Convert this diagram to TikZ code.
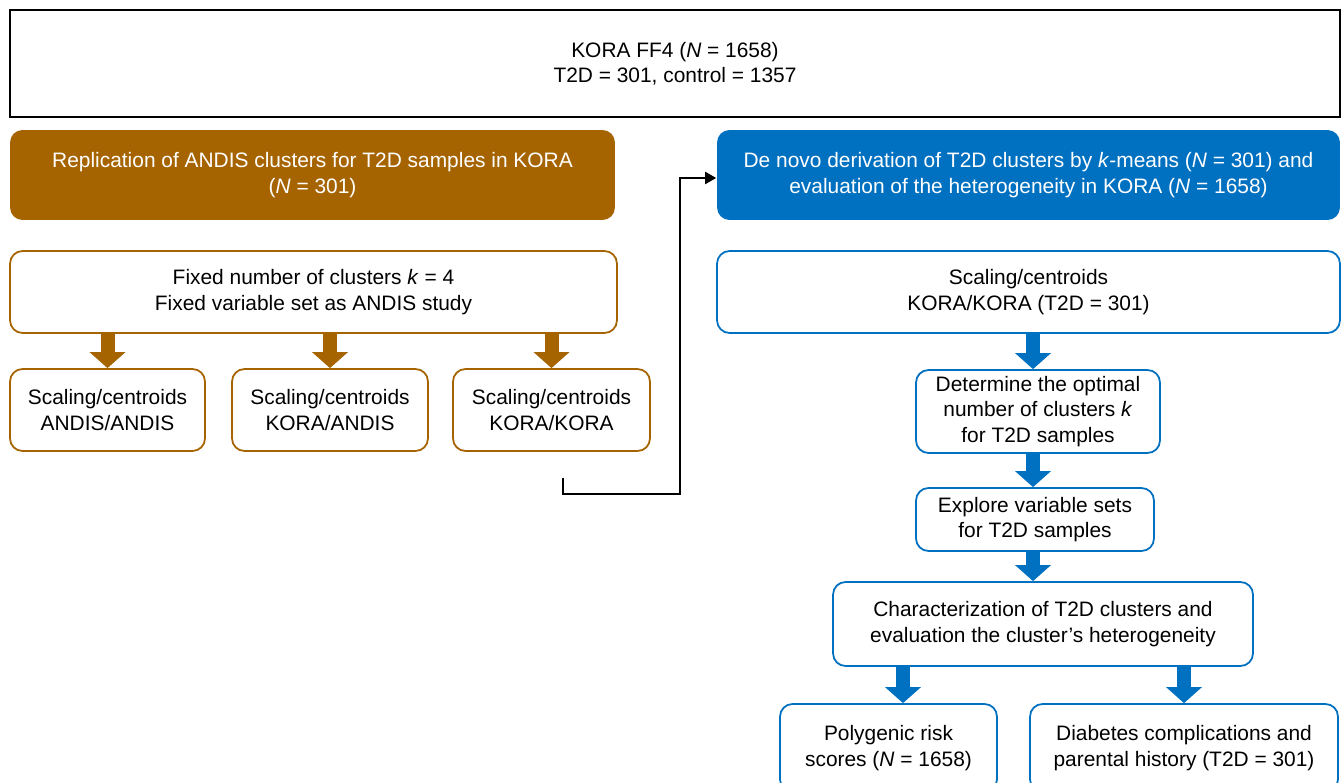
\documentclass[tikz,border=0pt]{standalone}
\usepackage{fontspec}
\setmainfont{Liberation Sans}
\usepackage{tikz}
\usetikzlibrary{positioning,arrows.meta,calc}
\definecolor{andisbrown}{HTML}{A66400}
\definecolor{korablue}{HTML}{0070C0}

\tikzset{
  box/.style={draw, line width=1pt, rounded corners=0.25cm, fill=white, align=center,
    inner sep=0pt, font=\fontsize{11.9}{14.4}\selectfont},
  brownfill/.style={box, draw=none, fill=andisbrown, text=white},
  bluefill/.style={box, draw=none, fill=korablue, text=white},
  brownbox/.style={box, draw=andisbrown},
  bluebox/.style={box, draw=korablue},
  brownarrow/.style={andisbrown, line width=0.28cm, -{Triangle[width=0.7cm,length=0.32cm]}},
  bluearrow/.style={brownarrow, korablue},
  link/.style={line width=1.1pt, -{Triangle[width=0.24cm,length=0.22cm]}}
}

\begin{document}
\begin{tikzpicture}[x=0.02cm, y=-0.02cm]
  \useasboundingbox (0,0) rectangle (1342,783);
  \node[box, rounded corners=0pt, draw=black, line width=1.3pt, minimum width=26.6cm, minimum height=2.14cm]
    (kora) at (675,63.5) {KORA FF4 (\textit{N} = 1658)\\T2D = 301, control = 1357};

  % replication of the ANDIS clusters
  \node[brownfill, minimum width=12.1cm, minimum height=1.8cm] (repl) at (312.5,175)
    {Replication of ANDIS clusters for T2D samples in KORA\\(\textit{N} = 301)};
  \node[brownbox, minimum width=12.14cm, minimum height=1.64cm] (fixed) at (313.5,292)
    {Fixed number of clusters \textit{k} = 4\\Fixed variable set as ANDIS study};
  \node[brownbox, minimum width=3.9cm, minimum height=1.64cm] (s1) at (107.5,410)
    {Scaling/centroids\\ANDIS/ANDIS};
  \node[brownbox, minimum width=3.92cm, minimum height=1.64cm] (s2) at (330,410)
    {Scaling/centroids\\KORA/ANDIS};
  \node[brownbox, minimum width=3.94cm, minimum height=1.64cm] (s3) at (551.5,410)
    {Scaling/centroids\\KORA/KORA};
  \foreach \n in {s1,s2,s3}
    \draw[brownarrow] (fixed.south -| \n.north) -- (\n.north);

  % de novo derivation
  \node[bluefill, minimum width=12.46cm, minimum height=1.8cm] (denovo) at (1028.5,175)
    {De novo derivation of T2D clusters by \textit{k}-means (\textit{N} = 301) and\\
     evaluation of the heterogeneity in KORA (\textit{N} = 1658)};
  \node[bluebox, minimum width=12.46cm, minimum height=1.64cm] (scal) at (1028.5,292)
    {Scaling/centroids\\KORA/KORA (T2D = 301)};
  \node[bluebox, minimum width=4.88cm, minimum height=1.66cm] (optk) at (1038,411.5)
    {Determine the optimal\\number of clusters \textit{k}\\for T2D samples};
  \node[bluebox, minimum width=4.76cm, minimum height=1.26cm] (explore) at (1035,519.5)
    {Explore variable sets\\for T2D samples};
  \node[bluebox, minimum width=8.4cm, minimum height=1.68cm] (charac) at (1043,624)
    {Characterization of T2D clusters and\\evaluation the cluster’s heterogeneity};
  \node[bluebox, minimum width=4.34cm, minimum height=1.76cm] (prs) at (888.5,748)
    {Polygenic risk\\scores (\textit{N} = 1658)};
  \node[bluebox, minimum width=6.16cm, minimum height=1.76cm] (compl) at (1184,748)
    {Diabetes complications and\\parental history (T2D = 301)};

  \draw[bluearrow] ([xshift=-0.1cm]scal.south -| optk.north) -- ([xshift=-0.1cm]optk.north);
  \draw[bluearrow] ([xshift=-0.1cm]optk.south) -- ([xshift=-0.1cm]optk.south |- explore.north);
  \draw[bluearrow] ([xshift=-0.04cm]explore.south) -- ([xshift=-0.04cm]explore.south |- charac.north);
  \draw[bluearrow] ([xshift=0.29cm]charac.south -| prs.north) -- ([xshift=0.29cm]prs.north);
  \draw[bluearrow] (charac.south -| compl.north) -- (compl.north);

  % link from the replication to the de novo part
  \coordinate (lfrom) at (563,478);
  \coordinate (lbend) at (680,494);
  \draw[link] (lfrom) |- (lbend) |- ([yshift=-0.06cm]denovo.west);
\end{tikzpicture}
\end{document}
